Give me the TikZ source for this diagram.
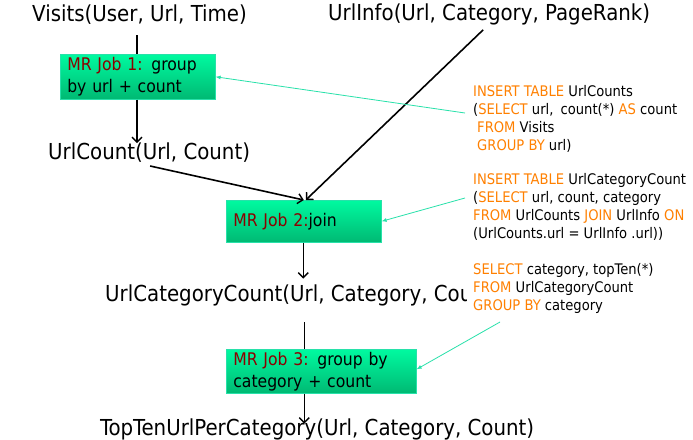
\documentclass[tikz,border=0pt]{standalone}
\usepackage{fontspec}
\setmainfont{DejaVu Sans Condensed}
\usetikzlibrary{arrows.meta,calc}
\definecolor{mrred}{RGB}{140,0,0}
\definecolor{sqlor}{RGB}{255,128,0}
\definecolor{tealln}{RGB}{40,225,170}
\definecolor{boxtop}{RGB}{0,250,160}
\definecolor{boxbot}{RGB}{0,185,115}
\newcommand{\kw}[1]{\textcolor{sqlor}{#1}}
\newcommand{\mrj}[1]{\textcolor{mrred}{#1}}
\begin{document}
\begin{tikzpicture}[x=1pt,y=-1pt,
  rel/.style={font=\fontsize{22}{26}\selectfont, inner sep=0pt, anchor=west},
  jobbox/.style={draw=tealln, line width=0.6pt, top color=boxtop, bottom color=boxbot,
    font=\fontsize{17.4}{22}\selectfont, align=left, anchor=north west, inner xsep=7pt, inner ysep=0pt},
  sqlbox/.style={font=\fontsize{14.6}{18}\selectfont, align=left, anchor=north west, inner sep=0pt},
  flow/.style={line width=1.6pt, -{Straight Barb[length=5pt,width=10pt,line width=1.4pt]}},
  plain/.style={line width=1.6pt},
  note/.style={draw=tealln, line width=0.8pt, -{Latex[length=5pt,width=4pt]}}]
\useasboundingbox (0,0) rectangle (693,439);
\fill[white] (0,0) rectangle (693,439);

% relation labels
\node[rel] (visits) at (32,15) {Visits(User, Url, Time)};
\node[rel] (urlinfo) at (328,14) {UrlInfo(Url, Category, PageRank)};
\node[rel] (urlcount) at (48,153) {UrlCount(Url, Count)};
\node[rel] (ucc) at (105,295) {UrlCategoryCount(Url, Category, Count)};
\node[rel] (topten) at (100,429) {TopTenUrlPerCategory(Url, Category, Count)};

% job boxes
\node[jobbox, text width=141pt, minimum height=45pt] (job1) at (60,54) {\mrj{MR Job 1:} group\\by url + count};
\node[jobbox, text width=141pt, minimum height=42pt] (job2) at (226,200) {\mrj{MR Job 2:}join};
\node[jobbox, text width=176pt, minimum height=44pt] (job3) at (226,349) {\mrj{MR Job 3:} group by\\category + count};

% black connectors
\coordinate (v1) at (137,35);
\draw[plain] (v1) -- (v1 |- job1.north);
\draw[flow] (v1 |- job1.south) -- (137,143) coordinate (uc1);
\draw[flow] ($(urlcount.south)+(1,3)$) -- (job2.north);
\draw[flow] ($(urlinfo.south)+(-6,5)$) -- ($(job2.north)+(2,0)$);
\draw[flow] ($(job2.south)+(-0.5,0)$) -- ($(job2.south)+(-0.5,36)$);
\draw[plain] ($(job3.north)+(-17,-27)$) -- ($(job3.north)+(-17,0)$);
\draw[flow] ($(job3.south)+(-17,0)$) -- ($(job3.south)+(-17,30)$);

% SQL
\node[sqlbox] (sql1) at (473,85) {\kw{INSERT TABLE} UrlCounts\\(\kw{SELECT} url,\hspace{3pt} count(*) \kw{AS} count\\\hspace{4pt}\kw{FROM} Visits\\\hspace{4pt}\kw{GROUP BY} url)};
\node[sqlbox] (sql2) at (473,173) {\kw{INSERT TABLE} UrlCategoryCount\\(\kw{SELECT} url, count, category\\\kw{FROM} UrlCounts \kw{JOIN} UrlInfo \kw{ON}\\(UrlCounts.url = UrlInfo .url))};
\node[sqlbox, fill=white, inner xsep=6pt] (sql3) at (467,263) {\kw{SELECT} category, topTen(*)\\\kw{FROM} UrlCategoryCount\\\kw{GROUP BY} category};

% notes
\draw[note] ($(sql1.north west)+(-8,28)$) -- (job1.east);
\draw[note] ($(sql2.north west)+(-8,25)$) -- (job2.east);
\draw[note] ($(sql3.north west)+(33,59)$) -- ($(job3.east)+(0,-2)$);
\end{tikzpicture}
\end{document}
